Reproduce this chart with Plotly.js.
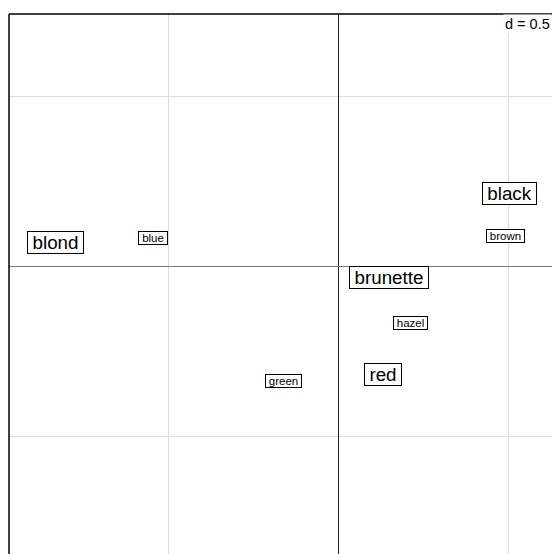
<!DOCTYPE html>
<html>
<head>
<meta charset="utf-8">
<script src="https://cdn.plot.ly/plotly-3.0.1.min.js"></script>
<style>html,body{margin:0;padding:0;background:#fff;overflow:hidden}</style>
</head>
<body>
<div id="chart" style="width:552px;height:554px"></div>
<script>
// Hair colours (row coordinates)
var hairLabels = ["black", "brunette", "red", "blond"];
var hairX = [0.505, 0.149, 0.130, -0.835];
var hairY = [0.215, -0.033, -0.320, 0.070];
// Eye colours (column coordinates)
var eyeLabels = ["brown", "blue", "hazel", "green"];
var eyeX = [0.492, -0.547, 0.213, -0.162];
var eyeY = [0.088, 0.083, -0.167, -0.339];
var gridLabel = "d = 0.5";

var FAM = "Liberation Sans, Arial, sans-serif";
var BIG = 18.8, SMALL = 11.5;
var cv = document.createElement("canvas").getContext("2d");
function tw(t, size) { cv.font = size + "px 'Liberation Sans', Arial, sans-serif"; return cv.measureText(t).width; }

var ann = [];
function addLabels(labels, xs, ys, size, hpad, h) {
  for (var i = 0; i < labels.length; i++) {
    ann.push({
      x: xs[i], y: ys[i], xref: "x", yref: "y", text: labels[i], showarrow: false,
      xanchor: "center", yanchor: "middle", valign: "middle",
      font: {family: FAM, size: size, color: "#000"},
      bgcolor: "#fff", bordercolor: "#000", borderwidth: 1, borderpad: 0,
      width: Math.round(tw(labels[i], size) + 2 * hpad), height: h
    });
  }
}
addLabels(hairLabels, hairX, hairY, BIG, 4.5, 21);
addLabels(eyeLabels, eyeX, eyeY, SMALL, 3, 12);
ann.push({
  xref: "paper", yref: "paper", x: 1, y: 1, xanchor: "right", yanchor: "top",
  text: gridLabel, showarrow: false, bgcolor: "#fff", borderpad: 1,
  font: {family: FAM, size: 14.5, color: "#000"}
});

var layout = {
  width: 552, height: 554,
  margin: {l: 8.5, r: 0, t: 14, b: 0, pad: 0},
  paper_bgcolor: "#fff", plot_bgcolor: "#fff",
  showlegend: false,
  xaxis: {range: [-0.9714, 0.6295], tick0: 0, dtick: 0.5, showgrid: true, gridcolor: "#dcdcdc", gridwidth: 1,
          zeroline: true, zerolinecolor: "#222", zerolinewidth: 1, showticklabels: false, ticks: "", showline: false, fixedrange: true},
  yaxis: {range: [-0.8474, 0.7432], tick0: 0, dtick: 0.5, showgrid: true, gridcolor: "#dcdcdc", gridwidth: 1,
          zeroline: true, zerolinecolor: "#777", zerolinewidth: 1, showticklabels: false, ticks: "", showline: false, fixedrange: true},
  annotations: ann,
  shapes: [
    {type: "line", xref: "paper", yref: "paper", x0: 0, x1: 0, y0: 0, y1: 1, line: {color: "#000", width: 1.5}},
    {type: "line", xref: "paper", yref: "paper", x0: 0, x1: 1, y0: 1, y1: 1, line: {color: "#000", width: 1.5}}
  ]
};
Plotly.newPlot("chart", [{x: [], y: [], type: "scatter", mode: "markers"}], layout, {displayModeBar: false, staticPlot: true});
</script>
</body>
</html>
